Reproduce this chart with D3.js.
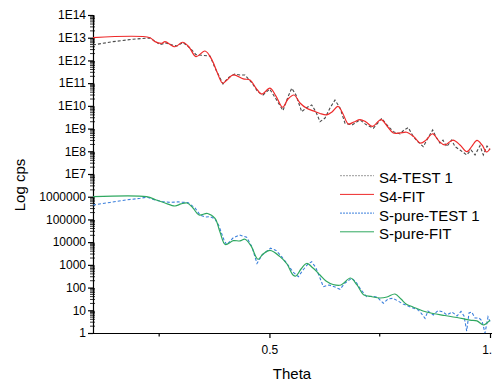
<!DOCTYPE html>
<html>
<head>
<meta charset="utf-8">
<script src="https://cdn.jsdelivr.net/npm/d3@7/dist/d3.min.js"></script>
<style>
  html, body { margin: 0; padding: 0; background: #fff; }
  svg { display: block; }
  text { font-family: "Liberation Sans", Arial, sans-serif; fill: #000; }
</style>
</head>
<body>
<svg id="chart" width="492" height="383"></svg>
<script>
// ---------------- DATA ----------------
const s4TestTheta = [0.100,0.1453,0.1907,0.2292,0.2428,0.2519,0.2655,0.2791,0.2904,0.304,0.3199,0.3335,0.3494,0.3652,0.3766,0.3947,0.406,0.4212,0.4332,0.4446,0.4605,0.474,0.4854,0.5006,0.5149,0.5307,0.5421,0.5505,0.5602,0.5731,0.5829,0.5958,0.6055,0.6146,0.626,0.6373,0.6486,0.66,0.6713,0.6872,0.7053,0.7189,0.7355,0.7439,0.7545,0.7665,0.7808,0.796,0.8051,0.8148,0.8261,0.8368,0.8488,0.8595,0.8701,0.8776,0.8867,0.8935,0.9018,0.9132,0.9206,0.932,0.9472,0.9569,0.966,0.9773,0.9848,0.9932,1.0];
const s4TestCps = [4.8e12,6.7e12,8.6e12,9.8e12,6.5e12,5.0e12,5.9e12,4.8e12,4.3e12,6.2e12,3.5e12,1.8e12,1.66e12,1.57e12,4.7e11,9.2e10,1.7e11,2.5e11,2.3e11,2.3e11,1.02e11,4.1e10,3.0e10,5.5e10,2.0e10,6.2e9,2.5e10,6.0e10,3.0e10,5.5e9,8.1e9,1.1e10,5.4e9,2.0e9,2.9e9,8.1e9,1.8e10,8.1e9,1.7e9,1.44e9,2.4e9,1.5e9,1.03e9,1.6e9,2.8e9,1.44e9,7.3e8,5.8e8,8.7e8,1.1e9,4.4e8,2.6e8,1.6e8,3.9e8,8.7e8,4.3e8,2.3e8,3.1e8,1.6e8,3.1e8,1.6e8,1.14e8,6.9e7,1.14e8,6.9e7,1.77e8,6.9e7,1.7e8,1.14e8];

const s4FitTheta = [0.100,0.229,0.2406,0.2557,0.2632,0.2859,0.3033,0.3176,0.3335,0.3539,0.3698,0.3811,0.394,0.4038,0.418,0.4407,0.4559,0.4695,0.4824,0.5012,0.5148,0.53,0.5421,0.5557,0.5693,0.5845,0.5994,0.6146,0.6298,0.6418,0.6554,0.6668,0.6788,0.6917,0.7053,0.7189,0.7336,0.7529,0.7665,0.7808,0.796,0.8112,0.8277,0.8424,0.8549,0.8701,0.8844,0.8969,0.9161,0.932,0.9478,0.9592,0.9705,0.9819,0.9925,1.0];
const s4FitCps = [1.0e13,1.0e13,6.7e12,5.7e12,6.7e12,4.0e12,6.3e12,3.9e12,1.47e12,2.6e12,1.05e12,3.1e11,9.9e10,1.38e11,2.3e11,1.53e11,1.38e11,6.1e10,3.3e10,6.0e10,2.7e10,8.7e9,2.0e10,3.0e10,1.34e10,7.8e9,6.0e9,4.6e9,4.0e9,5.4e9,9.4e9,4.4e9,1.6e9,1.95e9,2.5e9,1.95e9,1.26e9,2.5e9,1.3e9,6.4e8,6.4e8,6.9e8,4.3e8,2.3e8,3.1e8,5.9e8,2.8e8,1.9e8,3.1e8,1.9e8,9.6e7,1.7e8,3.0e8,1.9e8,9.3e7,1.33e8];

const pureTestTheta = [0.100,0.1385,0.1748,0.2065,0.2224,0.2405,0.2564,0.2745,0.2927,0.3153,0.3312,0.3426,0.3539,0.3652,0.3766,0.3856,0.397,0.4031,0.4174,0.4321,0.4484,0.4605,0.4718,0.4832,0.5024,0.5149,0.5262,0.5421,0.5534,0.5655,0.5761,0.5874,0.5958,0.6055,0.6146,0.6221,0.635,0.6486,0.66,0.6713,0.6865,0.6962,0.7076,0.7205,0.7325,0.7439,0.7582,0.7688,0.7802,0.7915,0.8029,0.8142,0.8255,0.8375,0.8436,0.8527,0.8595,0.8715,0.8821,0.8935,0.9025,0.9139,0.9252,0.9343,0.9411,0.9472,0.9524,0.9585,0.966,0.9751,0.9819,0.9887,0.9955,1.0];
const pureTestCps = [4.3e5,5.6e5,7.2e5,8.5e5,9.6e5,7.2e5,6.2e5,5.6e5,5.9e5,5.5e5,3.2e5,1.57e5,1.28e5,1.32e5,1.05e5,5.1e4,1.24e4,7.5e3,1.52e4,2.07e4,1.64e4,6.1e3,1.15e3,2.7e3,5.4e3,4.3e3,2.5e3,990,485,301,594,1090,1380,728,264,109,130,106,84,159,256,176,78,39.6,41,38.5,20.3,31.4,33.7,25.6,18.9,15.4,12.6,10.3,7.6,4.4,9.3,6.2,9.8,8.4,6.2,8.4,5.6,8.9,5.6,1.22,7.6,8.4,4.6,4.6,3.4,1.0,5.1,3.2];

const pureFitTheta = [0.100,0.2213,0.2435,0.2632,0.2859,0.2995,0.3131,0.3267,0.3403,0.3596,0.3766,0.3879,0.3999,0.418,0.4332,0.4446,0.4582,0.474,0.4854,0.5012,0.5239,0.5398,0.5534,0.5602,0.5716,0.5845,0.5987,0.6146,0.6282,0.6441,0.6622,0.6838,0.6985,0.7144,0.7302,0.7506,0.7665,0.7846,0.7982,0.8096,0.8254,0.8481,0.8708,0.898,0.9252,0.9546,0.9705,0.9848,0.9932,1.0];
const pureFitCps = [1.0e6,1.0e6,7.2e5,5.3e5,3.9e5,4.8e5,5.3e5,3.2e5,1.57e5,1.83e5,1.1e5,2.8e4,7.9e3,1.16e4,1.13e4,1.34e4,6.8e3,1.76e3,3.0e3,4.3e3,2.3e3,1090,358,324,658,1150,728,358,195,137,130,264,130,47,40.5,34.8,38.5,52,31.4,18.9,14.0,9.3,7.2,5.9,4.8,3.7,3.4,2.25,2.75,3.7];

const yTickValues = [1,1e1,1e2,1e3,1e4,1e5,1e6,1e7,1e8,1e9,1e10,1e11,1e12,1e13,1e14];
const yTickLabels = ["1","10","100","1000","10000","100000","1000000","1E7","1E8","1E9","1E10","1E11","1E12","1E13","1E14"];
const xMajorTicks = [0.5, 1.0];
const xMajorLabels = ["0.5", "1.0"];
const xMinorTicks = [0.25, 0.75];

const seriesNames = ["S4-TEST 1", "S4-FIT", "S-pure-TEST 1", "S-pure-FIT"];
const seriesColors = ["#4a4a4a", "#ee2a2a", "#3a7fdc", "#2fa860"];
const legendColors = ["#9a9a9a", "#ee2a2a", "#3a7fdc", "#2fa860"];

// ---------------- CHART ----------------
const svg = d3.select("#chart");
const x = d3.scaleLinear().domain([0.1, 1.0]).range([93, 490]);
const y = d3.scaleLog().domain([1, 1e14]).range([333, 15]);

// Y axis (major)
const yAxis = d3.axisLeft(y)
  .tickValues(yTickValues)
  .tickFormat((d, i) => yTickLabels[i])
  .tickSize(5)
  .tickPadding(2);
const gy = svg.append("g").attr("transform", "translate(93,0)").call(yAxis);
gy.selectAll("text").style("font-size", "12px").attr("font-family", "Liberation Sans, Arial, sans-serif");
gy.selectAll("line, path").attr("stroke", "#000").attr("stroke-width", 1.2);

// Y minor ticks
const yMinor = [];
for (let d = 0; d < 14; d++) for (let k = 2; k <= 9; k++) yMinor.push(k * Math.pow(10, d));
svg.append("g").selectAll("line").data(yMinor).join("line")
  .attr("x1", 90).attr("x2", 95)
  .attr("y1", d => y(d)).attr("y2", d => y(d))
  .attr("stroke", "#000").attr("stroke-width", 0.8);

// X axis
const xAxis = d3.axisBottom(x)
  .tickValues(xMajorTicks)
  .tickFormat((d, i) => xMajorLabels[i])
  .tickSize(5)
  .tickPadding(7)
  .tickSizeOuter(0);
const gx = svg.append("g").attr("transform", "translate(0,333)").call(xAxis);
gx.selectAll("text").style("font-size", "12px");
gx.selectAll("line, path").attr("stroke", "#000").attr("stroke-width", 1.2);
gx.select("path.domain").attr("d", "M92,0.5H492");
svg.append("g").selectAll("line").data(xMinorTicks).join("line")
  .attr("x1", d => x(d)).attr("x2", d => x(d))
  .attr("y1", 333).attr("y2", 336.5)
  .attr("stroke", "#000").attr("stroke-width", 1.2);

// Axis titles
svg.append("text").attr("x", 292).attr("y", 378.5).attr("text-anchor", "middle")
  .style("font-size", "15px").text("Theta");
svg.append("text").attr("transform", "translate(25,185) rotate(-90)").attr("text-anchor", "middle")
  .style("font-size", "15px").text("Log cps");

// Lines
const series = [
  { t: s4TestTheta, v: s4TestCps, dash: "3,2", curve: d3.curveLinear, w: 1.1 },
  { t: s4FitTheta, v: s4FitCps, dash: null, curve: d3.curveCatmullRom.alpha(0.5), w: 1.2 },
  { t: pureTestTheta, v: pureTestCps, dash: "3,2", curve: d3.curveLinear, w: 1.1 },
  { t: pureFitTheta, v: pureFitCps, dash: null, curve: d3.curveCatmullRom.alpha(0.5), w: 1.2 }
];
const plot = svg.append("g");
series.forEach((s, i) => {
  const pts = s.t.map((t, j) => [t, s.v[j]]);
  const line = d3.line().x(d => x(d[0])).y(d => y(d[1])).curve(s.curve);
  plot.append("path").datum(pts)
    .attr("d", line)
    .attr("fill", "none")
    .attr("stroke", seriesColors[i])
    .attr("stroke-width", s.w)
    .attr("stroke-dasharray", s.dash);
});

// Legend
const legend = svg.append("g");
seriesNames.forEach((name, i) => {
  const ly = 175.7 + i * 18.7;
  legend.append("line")
    .attr("x1", 340).attr("x2", 374).attr("y1", ly).attr("y2", ly)
    .attr("stroke", legendColors[i]).attr("stroke-width", 1)
    .attr("stroke-dasharray", i % 2 === 0 ? "2,1" : null);
  legend.append("text").attr("x", 379).attr("y", ly + 7.6)
    .style("font-size", "15px").text(name);
});
</script>
</body>
</html>
